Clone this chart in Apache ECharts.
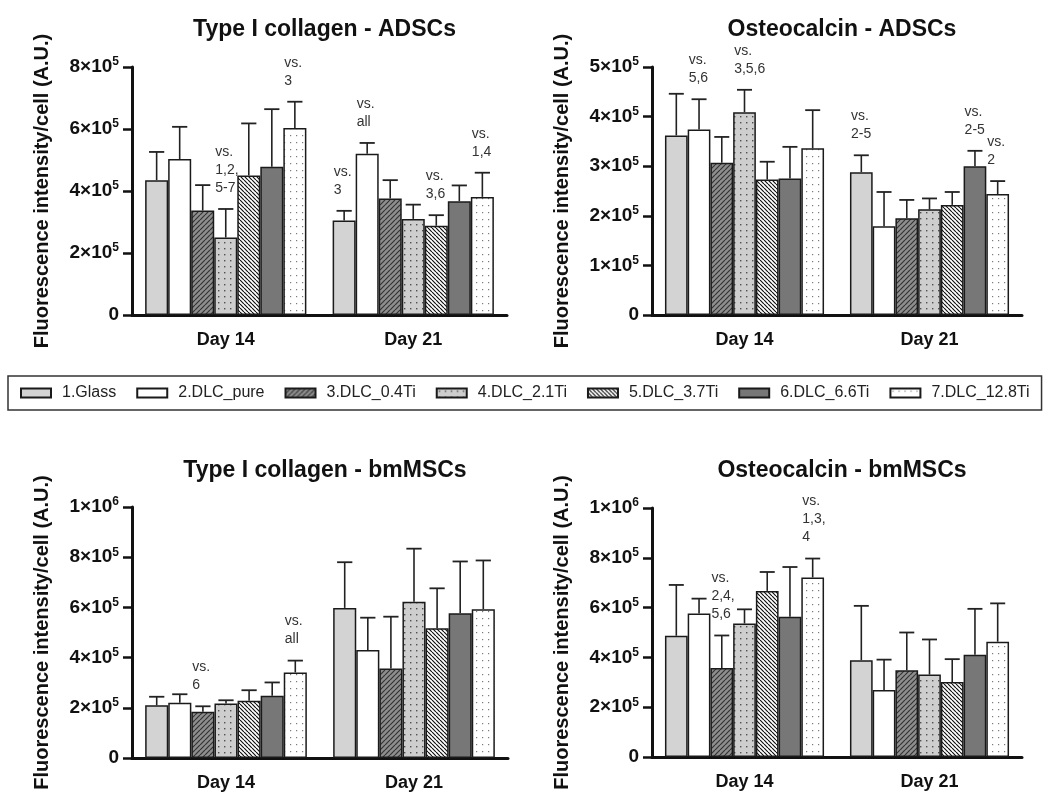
<!DOCTYPE html>
<html>
<head>
<meta charset="utf-8">
<title>Fluorescence intensity/cell</title>
<script src="https://cdn.jsdelivr.net/npm/echarts@6/dist/echarts.min.js"></script>
<style>
  html, body { margin: 0; padding: 0; background: #fff; }
  #main { width: 1048px; height: 794px; }
</style>
</head>
<body>
<div id="main"></div>
<script>
// categories and groups
var days = ['Day 14', 'Day 21'];
var groups = ['1.Glass', '2.DLC_pure', '3.DLC_0.4Ti', '4.DLC_2.1Ti', '5.DLC_3.7Ti', '6.DLC_6.6Ti', '7.DLC_12.8Ti'];

// Type I collagen - ADSCs
var colAdMean14 = [435000, 503000, 337000, 250000, 450000, 478000, 603000];
var colAdSd14   = [91000, 104000, 82000, 92000, 168000, 186000, 85000];
var colAdMean21 = [305000, 520000, 376000, 310000, 288000, 367000, 381000];
var colAdSd21   = [31000, 35000, 59000, 46000, 34000, 51000, 78000];
var colAdNote14 = ['', '', '', 'vs.\n1,2,\n5-7', '', '', 'vs.\n3'];
var colAdNote21 = ['vs.\n3', 'vs.\nall', '', '', 'vs.\n3,6', '', 'vs.\n1,4'];

// Osteocalcin - ADSCs
var ocnAdMean14 = [362000, 374000, 307000, 409000, 273000, 275000, 336000];
var ocnAdSd14   = [84000, 61000, 52000, 45000, 36000, 64000, 77000];
var ocnAdMean21 = [288000, 179000, 195000, 213000, 222000, 300000, 244000];
var ocnAdSd21   = [34000, 69000, 37000, 22000, 26000, 31000, 26000];
var ocnAdNote14 = ['', 'vs.\n5,6', '', 'vs.\n3,5,6', '', '', ''];
var ocnAdNote21 = ['vs.\n2-5', '', '', '', '', 'vs.\n2-5', 'vs.\n2'];

// Type I collagen - bmMSCs
var colBmMean14 = [210000, 220000, 184000, 217000, 228000, 248000, 341000];
var colBmSd14   = [34000, 34000, 22000, 13000, 42000, 53000, 47000];
var colBmMean21 = [598000, 430000, 357000, 623000, 517000, 577000, 593000];
var colBmSd21   = [182000, 129000, 206000, 211000, 159000, 206000, 194000];
var colBmNote14 = ['', '', 'vs.\n6', '', '', '', 'vs.\nall'];
var colBmNote21 = ['', '', '', '', '', '', ''];

// Osteocalcin - bmMSCs
var ocnBmMean14 = [487000, 576000, 357000, 536000, 667000, 563000, 721000];
var ocnBmSd14   = [204000, 60000, 131000, 57000, 76000, 200000, 76000];
var ocnBmMean21 = [389000, 269000, 348000, 331000, 301000, 411000, 463000];
var ocnBmSd21   = [218000, 122000, 152000, 141000, 92000, 184000, 154000];
var ocnBmNote14 = ['', '', 'vs.\n2,4,\n5,6', '', '', '', 'vs.\n1,3,\n4'];
var ocnBmNote21 = ['', '', '', '', '', '', ''];

// y axis ranges
var yMax = [800000, 500000, 1000000, 1000000];
var yStep = [200000, 100000, 200000, 200000];

(function() {
  var FONT = '"Liberation Sans", Arial, sans-serif';
  var GAP = 0.14;

  // 斜线填充
  function hatch(bg, line, size, width, dir) {
    var c = document.createElement('canvas');
    c.width = size; c.height = size;
    var ctx = c.getContext('2d');
    ctx.fillStyle = bg;
    ctx.fillRect(0, 0, size, size);
    ctx.strokeStyle = line;
    ctx.lineWidth = width;
    ctx.beginPath();
    for (var k = -1; k <= 1; k++) {
      if (dir > 0) { ctx.moveTo(k * size, size); ctx.lineTo(k * size + size, 0); }
      else { ctx.moveTo(k * size, 0); ctx.lineTo(k * size + size, size); }
    }
    ctx.stroke();
    return { image: c, repeat: 'repeat' };
  }
  // 点状填充
  function dots(bg, dot, w, h, r) {
    var c = document.createElement('canvas');
    c.width = w; c.height = h;
    var ctx = c.getContext('2d');
    ctx.fillStyle = bg;
    ctx.fillRect(0, 0, w, h);
    ctx.fillStyle = dot;
    ctx.fillRect(2, 2, r, r);
    return { image: c, repeat: 'repeat' };
  }

  var fills = [
    '#d3d3d3',
    '#ffffff',
    hatch('#8e8e8e', '#333333', 5, 1.2, 1),
    dots('#cecece', '#505050', 6, 6, 1.4),
    hatch('#ffffff', '#111111', 4, 1.2, -1),
    '#777777',
    dots('#ffffff', '#7a7a7a', 6, 7, 1.2)
  ];

  var panels = [
    { title: 'Type I collagen - ADSCs', m14: colAdMean14, s14: colAdSd14, m21: colAdMean21, s21: colAdSd21, n14: colAdNote14, n21: colAdNote21 },
    { title: 'Osteocalcin - ADSCs', m14: ocnAdMean14, s14: ocnAdSd14, m21: ocnAdMean21, s21: ocnAdSd21, n14: ocnAdNote14, n21: ocnAdNote21 },
    { title: 'Type I collagen - bmMSCs', m14: colBmMean14, s14: colBmSd14, m21: colBmMean21, s21: colBmSd21, n14: colBmNote14, n21: colBmNote21 },
    { title: 'Osteocalcin - bmMSCs', m14: ocnBmMean14, s14: ocnBmSd14, m21: ocnBmMean21, s21: ocnBmSd21, n14: ocnBmNote14, n21: ocnBmNote21 }
  ];
  var grids = [
    { left: 132, top: 67, width: 375, height: 248 },
    { left: 652, top: 67, width: 370, height: 248 },
    { left: 132, top: 507, width: 376, height: 251 },
    { left: 652, top: 508, width: 370, height: 249 }
  ];
  var titleTop = [13, 13, 454, 454];

  // 刻度文字 8×10^5
  function sciLabel(v) {
    if (v === 0) return '{b|0}';
    var e = Math.floor(Math.log10(v) + 1e-9);
    var m = Math.round(v / Math.pow(10, e));
    return '{b|' + m + '×10}{s|' + e + '}';
  }

  // 误差线 + 标注
  function makeErr(gi, notes) {
    return function(params, api) {
      var cat = api.value(0), mean = api.value(1), sd = api.value(2);
      var base = api.coord([cat, mean]);
      var top = api.coord([cat, mean + sd]);
      var band = api.size([1, 0])[0];
      var bw = band * (1 - GAP) / 7;
      var left = base[0] - band * (1 - GAP) / 2 + gi * bw;
      var x = left + bw / 2;
      var capHalf = bw * 0.33;
      var children = [
        { type: 'line', shape: { x1: x, y1: base[1], x2: x, y2: top[1] }, style: { stroke: '#222', lineWidth: 1.6 } },
        { type: 'line', shape: { x1: x - capHalf, y1: top[1], x2: x + capHalf, y2: top[1] }, style: { stroke: '#222', lineWidth: 1.8 } }
      ];
      var note = notes[params.dataIndex][gi];
      if (note) {
        children.push({
          type: 'text',
          style: {
            text: note, x: left + 1, y: top[1] - 12,
            align: 'left', verticalAlign: 'bottom',
            fontSize: 14, lineHeight: 18, fontFamily: FONT, fill: '#333'
          }
        });
      }
      return { type: 'group', children: children };
    };
  }

  var option = {
    animation: false,
    backgroundColor: '#fff',
    title: [],
    grid: [],
    xAxis: [],
    yAxis: [],
    legend: {
      data: groups,
      icon: 'rect',
      itemWidth: 30,
      itemHeight: 9,
      itemGap: 20,
      left: 8,
      top: 376,
      padding: [9, 12, 9, 12],
      borderColor: '#333',
      borderWidth: 1.5,
      borderRadius: 0,
      selectedMode: false,
      textStyle: { fontSize: 16, color: '#222', fontFamily: FONT, padding: [0, 0, 0, 6] }
    },
    series: []
  };

  panels.forEach(function(p, pi) {
    var g = grids[pi];
    option.grid.push({ left: g.left, top: g.top, width: g.width, height: g.height, outerBoundsMode: 'none' });
    option.title.push({
      text: p.title,
      left: g.left + g.width / 2,
      textAlign: 'center',
      top: titleTop[pi],
      textStyle: { fontSize: 23, fontWeight: 'bold', color: '#111', fontFamily: FONT }
    });
    option.xAxis.push({
      type: 'category',
      gridIndex: pi,
      data: days,
      axisLine: { lineStyle: { color: '#111', width: 3 } },
      axisTick: { alignWithLabel: true, length: 8, lineStyle: { color: '#111', width: 2.5 } },
      axisLabel: { margin: 16, fontSize: 18, fontWeight: 'bold', color: '#111', fontFamily: FONT }
    });
    option.yAxis.push({
      type: 'value',
      gridIndex: pi,
      min: 0,
      max: yMax[pi],
      interval: yStep[pi],
      name: 'Fluorescence intensity/cell (A.U.)',
      nameLocation: 'middle',
      nameGap: 80,
      nameTextStyle: { fontSize: 20, fontWeight: 'bold', color: '#111', fontFamily: FONT },
      axisLine: { show: true, lineStyle: { color: '#111', width: 3 } },
      axisTick: { show: true, length: 9, lineStyle: { color: '#111', width: 2.5 } },
      splitLine: { show: false },
      axisLabel: {
        margin: 13,
        formatter: sciLabel,
        rich: {
          b: { fontSize: 19, fontWeight: 'bold', color: '#111', fontFamily: FONT, lineHeight: 22 },
          s: { fontSize: 12, fontWeight: 'bold', color: '#111', fontFamily: FONT, verticalAlign: 'top', lineHeight: 13 }
        }
      }
    });

    // 柱子
    groups.forEach(function(name, gi) {
      option.series.push({
        name: name,
        type: 'bar',
        xAxisIndex: pi,
        yAxisIndex: pi,
        data: [p.m14[gi], p.m21[gi]],
        barGap: 0,
        barCategoryGap: GAP * 100 + '%',
        itemStyle: { color: fills[gi], borderColor: '#1a1a1a', borderWidth: 1.5 },
        emphasis: { disabled: true }
      });
    });
    // 误差线
    groups.forEach(function(name, gi) {
      option.series.push({
        name: 'sd ' + pi + '-' + gi,
        type: 'custom',
        xAxisIndex: pi,
        yAxisIndex: pi,
        z: 5,
        clip: false,
        data: [[0, p.m14[gi], p.s14[gi]], [1, p.m21[gi], p.s21[gi]]],
        renderItem: makeErr(gi, [p.n14, p.n21])
      });
    });
  });

  var myChart = echarts.init(document.getElementById('main'));
  myChart.setOption(option);
  window.addEventListener('resize', function() {
    myChart.resize();
  });
})();
</script>
</body>
</html>
